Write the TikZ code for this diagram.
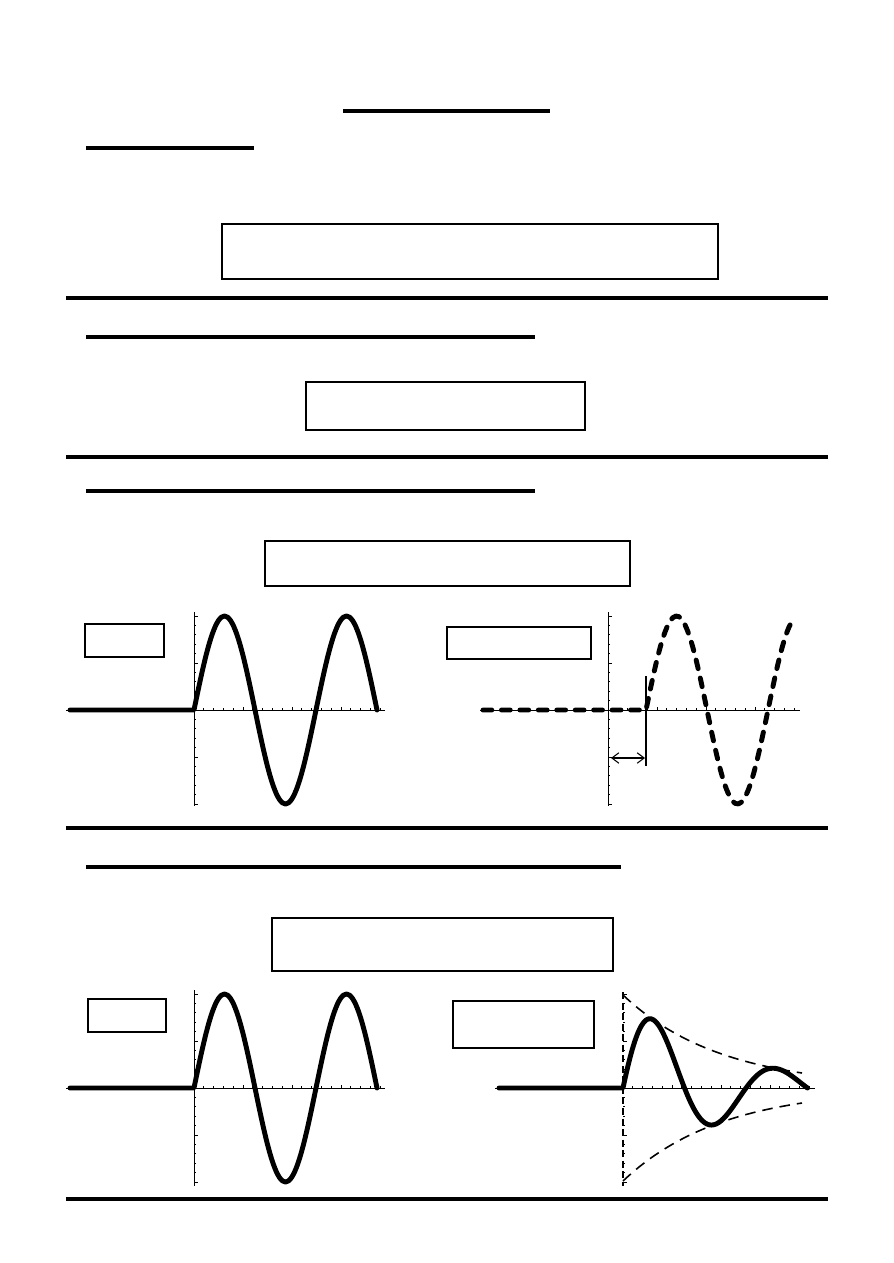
\documentclass[tikz,border=0pt]{standalone}
\usetikzlibrary{positioning, arrows.meta}

\tikzset{
  rulebar/.style={line width=1.8pt},
  headline/.style={line width=1.8pt},
  framebox/.style={draw, line width=1.6pt, inner sep=0pt},
  axisline/.style={line width=0.5pt},
  tickmark/.style={line width=0.4pt},
  sigcurve/.style={line width=2.8pt, line cap=round, line join=round},
  dashcurve/.style={sigcurve, dash pattern=on 5pt off 5.5pt},
  envelope/.style={line width=0.9pt, dash pattern=on 6pt off 4pt},
  dashaxis/.style={line width=0.6pt, dash pattern=on 4pt off 2pt},
}

% axes with ticks: origin x, origin y, left end, right end, top, bottom, style of vertical axis
\newcommand{\drawaxes}[7]{%
  \draw[axisline] (#3,#2) -- (#4,#2);
  \draw[#7] (#1,#5) -- (#1,#6);
  \foreach \k in {1,...,19} {\draw[tickmark] ({#1+9.8*\k},#2) -- ++(0,-2);}
  \foreach \k in {1,...,3} {\draw[tickmark] ({#1+49*\k},#2) -- ++(0,-3.5);}
  \foreach \k in {-10,...,10} {\draw[tickmark] (#1,{#2+9.4*\k}) -- ++(2,0);}
  \foreach \k in {-2,...,2} {\draw[tickmark] (#1,{#2+47*\k}) -- ++(3.5,0);}
}

\begin{document}
\begin{tikzpicture}[x=0.02cm, y=-0.02cm]
  \useasboundingbox (0,0) rectangle (893,1263);

  % title and headings
  \draw[headline, line width=2.2pt] (343,111) -- (550,111);
  \draw[headline] (86,148) -- (254,148);
  \node[framebox, minimum width=9.92cm, minimum height=1.1cm] (formula1) at (470,251.5) {};
  \draw[rulebar] (66,298) -- (828,298);

  \draw[headline] (86,337) -- (535,337);
  \node[framebox, minimum width=5.58cm, minimum height=0.96cm] (formula2) at (445.5,406) {};
  \draw[rulebar] (66,457) -- (828,457);

  \draw[headline] (86,491) -- (535,491);
  \node[framebox, minimum width=7.3cm, minimum height=0.9cm] (formula3) at (447.5,563.5) {};

  % delayed signal
  \node[framebox, minimum width=1.58cm, minimum height=0.66cm] (inputA) at (124.5,640.5) {};
  \node[framebox, minimum width=2.88cm, minimum height=0.64cm] (outputA) at (519,643) {};
  \drawaxes{194}{710}{66}{385}{612}{806}{axisline}
  \draw[sigcurve] (70,710) -- (194,710) -- plot[domain=0:183, samples=61, smooth] ({194+\x},{710-94*sin(2.9508*\x)});
  \drawaxes{608}{710}{480}{800}{612}{806}{axisline}
  \draw[dashcurve] (483,710) -- (646,710) -- plot[domain=0:146, samples=50, smooth] ({646+\x},{710-94*sin(2.9508*\x)});
  \coordinate (delayTop) at (646,676);
  \coordinate (delayBot) at (646,766);
  \draw[axisline, line width=0.7pt] (delayTop) -- (delayBot);
  \coordinate (delayL) at (611,758);
  \coordinate (delayR) at (645,758);
  \draw[axisline, line width=0.6pt, {Straight Barb[length=4pt, width=6pt]}-{Straight Barb[length=4pt, width=6pt]}] (delayL) -- (delayR);
  \draw[rulebar] (66,828) -- (828,828);

  \draw[headline] (86,867) -- (621,867);
  \node[framebox, minimum width=6.82cm, minimum height=1.06cm] (formula4) at (442.5,944.5) {};

  % damped signal
  \node[framebox, minimum width=1.56cm, minimum height=0.66cm] (inputB) at (127,1015.5) {};
  \node[framebox, minimum width=2.82cm, minimum height=0.94cm] (outputB) at (523.5,1024.5) {};
  \drawaxes{194}{1088}{66}{385}{990}{1186}{axisline}
  \draw[sigcurve] (70,1088) -- (194,1088) -- plot[domain=0:183, samples=61, smooth] ({194+\x},{1088-94*sin(2.9508*\x)});
  \drawaxes{623}{1088}{495}{815}{992}{1186}{dashaxis}
  \draw[envelope] plot[domain=0:179, samples=30, smooth] ({623+\x},{1088-93*exp(-0.0102*\x)});
  \draw[envelope] plot[domain=0:179, samples=30, smooth] ({623+\x},{1088+93*exp(-0.0102*\x)});
  \draw[sigcurve] (499,1088) -- (623,1088) -- plot[domain=0:184.5, samples=80, smooth] ({623+\x},{1088-93*exp(-0.0102*\x)*sin(2.9268*\x)});
  \draw[rulebar] (66,1199) -- (828,1199);
\end{tikzpicture}
\end{document}
